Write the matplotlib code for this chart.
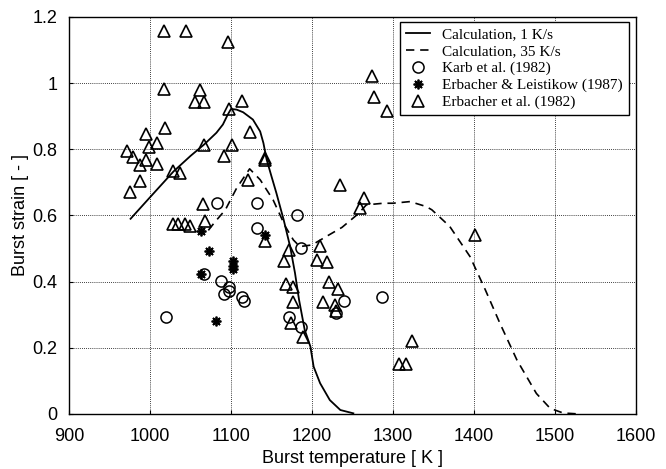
import matplotlib
matplotlib.use("Agg")
import matplotlib.pyplot as plt

# calculation curves
t_1ks = [976, 1000, 1029, 1050, 1067, 1082, 1090, 1096, 1100, 1107, 1115, 1127, 1136,
         1140, 1144, 1150, 1156, 1165, 1173, 1179, 1184, 1191, 1198, 1202, 1210, 1222,
         1235, 1251]
s_1ks = [0.59, 0.655, 0.733, 0.78, 0.815, 0.85, 0.875, 0.905, 0.922, 0.92, 0.912, 0.89,
         0.854, 0.819, 0.769, 0.718, 0.668, 0.587, 0.506, 0.426, 0.345, 0.254, 0.204,
         0.143, 0.093, 0.042, 0.012, 0.002]

t_35ks = [1072, 1080, 1093, 1107, 1123, 1136, 1152, 1167, 1177, 1185, 1200, 1218, 1237,
          1257, 1267, 1288, 1300, 1321, 1341, 1348, 1370, 1395, 1414, 1432, 1453, 1477,
          1494, 1510, 1530]
s_35ks = [0.555, 0.58, 0.617, 0.683, 0.741, 0.708, 0.647, 0.567, 0.526, 0.506, 0.511,
          0.537, 0.564, 0.605, 0.632, 0.637, 0.637, 0.642, 0.627, 0.617, 0.567, 0.476,
          0.375, 0.274, 0.163, 0.062, 0.017, 0.003, 0.0]

# Karb et al. (1982)
t_karb = [1083, 1132, 1132, 1067, 1088, 1098, 1097, 1091, 1113, 1116, 1020, 1182, 1187,
          1239, 1229, 1286, 1172, 1186]
s_karb = [0.639, 0.639, 0.562, 0.423, 0.403, 0.383, 0.373, 0.362, 0.353, 0.343, 0.293,
          0.600, 0.501, 0.343, 0.305, 0.353, 0.294, 0.264]

# Erbacher & Leistikow (1987)
t_el = [1063, 1073, 1102, 1102, 1102, 1063, 1082, 1142]
s_el = [0.552, 0.493, 0.461, 0.448, 0.438, 0.423, 0.282, 0.542]

# Erbacher et al. (1982)
t_erb = [1017, 1045, 1096, 1017, 1062, 1056, 1067, 1114, 1098, 1019, 995, 1123, 1009,
         999, 1067, 1101, 971, 979, 995, 988, 1009, 1091, 1028, 1037, 988, 1121, 975,
         1065, 1028, 1034, 1043, 1049, 1068, 1142, 1142, 1235, 1142, 1171, 1210, 1165,
         1206, 1219, 1168, 1176, 1221, 1232, 1264, 1259, 1176, 1214, 1228, 1229, 1174,
         1189, 1324, 1308, 1316, 1401, 1274, 1276, 1292]
s_erb = [1.159, 1.159, 1.125, 0.983, 0.98, 0.942, 0.942, 0.945, 0.922, 0.864, 0.846,
         0.851, 0.819, 0.806, 0.814, 0.814, 0.796, 0.776, 0.769, 0.753, 0.756, 0.779,
         0.733, 0.728, 0.703, 0.708, 0.670, 0.635, 0.574, 0.574, 0.574, 0.567, 0.582,
         0.774, 0.769, 0.693, 0.524, 0.496, 0.508, 0.461, 0.464, 0.458, 0.392, 0.385,
         0.400, 0.377, 0.653, 0.622, 0.340, 0.340, 0.328, 0.310, 0.276, 0.234, 0.222,
         0.151, 0.151, 0.542, 1.023, 0.958, 0.915]

plt.rcParams['font.family'] = ['Liberation Sans', 'DejaVu Sans']

fig = plt.figure(figsize=(6.66, 4.69), dpi=100)
ax = fig.add_axes([0.1036, 0.1173, 0.8514, 0.8465])

ax.plot(t_1ks, s_1ks, color="black", lw=1.3, label="Calculation, 1 K/s")
ax.plot(t_35ks, s_35ks, color="black", lw=1.2, linestyle=(0, (5, 3.5)),
        label="Calculation, 35 K/s")
ax.plot(t_karb, s_karb, linestyle="none", marker="o", ms=8, mfc="none",
        mec="black", mew=1.1, label="Karb et al. (1982)")
ax.plot(t_el, s_el, linestyle="none", marker=(8, 2, 0), ms=7, color="black",
        mew=1.3, label="Erbacher & Leistikow (1987)")
ax.plot(t_erb, s_erb, linestyle="none", marker="^", ms=9, mfc="none",
        mec="black", mew=1.2, label="Erbacher et al. (1982)")

ax.set_xlim(900, 1600)
ax.set_ylim(0, 1.2)
ax.set_xticks([900, 1000, 1100, 1200, 1300, 1400, 1500, 1600])
ax.set_yticks([0, 0.2, 0.4, 0.6, 0.8, 1.0, 1.2])
ax.set_yticklabels(["0", "0.2", "0.4", "0.6", "0.8", "1", "1.2"])
ax.grid(True, color="black", linestyle=(0, (1, 1.5)), lw=0.6)
ax.tick_params(direction="in", length=3, labelsize=13, colors="black")
ax.tick_params(axis="x", pad=10)
ax.tick_params(axis="y", pad=8.5)
for sp in ax.spines.values():
    sp.set_linewidth(1.0)

ax.set_xlabel("Burst temperature [ K ]", fontsize=13, labelpad=4)
ax.set_ylabel("Burst strain [ - ]", fontsize=13, labelpad=2)

leg = ax.legend(loc="upper right", bbox_to_anchor=(0.988, 0.988), borderaxespad=0,
                prop={"family": "Liberation Serif", "size": 11}, handlelength=1.6,
                fancybox=False, framealpha=1, edgecolor="black",
                labelspacing=0.2, borderpad=0.4, handletextpad=0.8)
leg.get_frame().set_linewidth(1.0)

fig.savefig("out.png", dpi=100)
